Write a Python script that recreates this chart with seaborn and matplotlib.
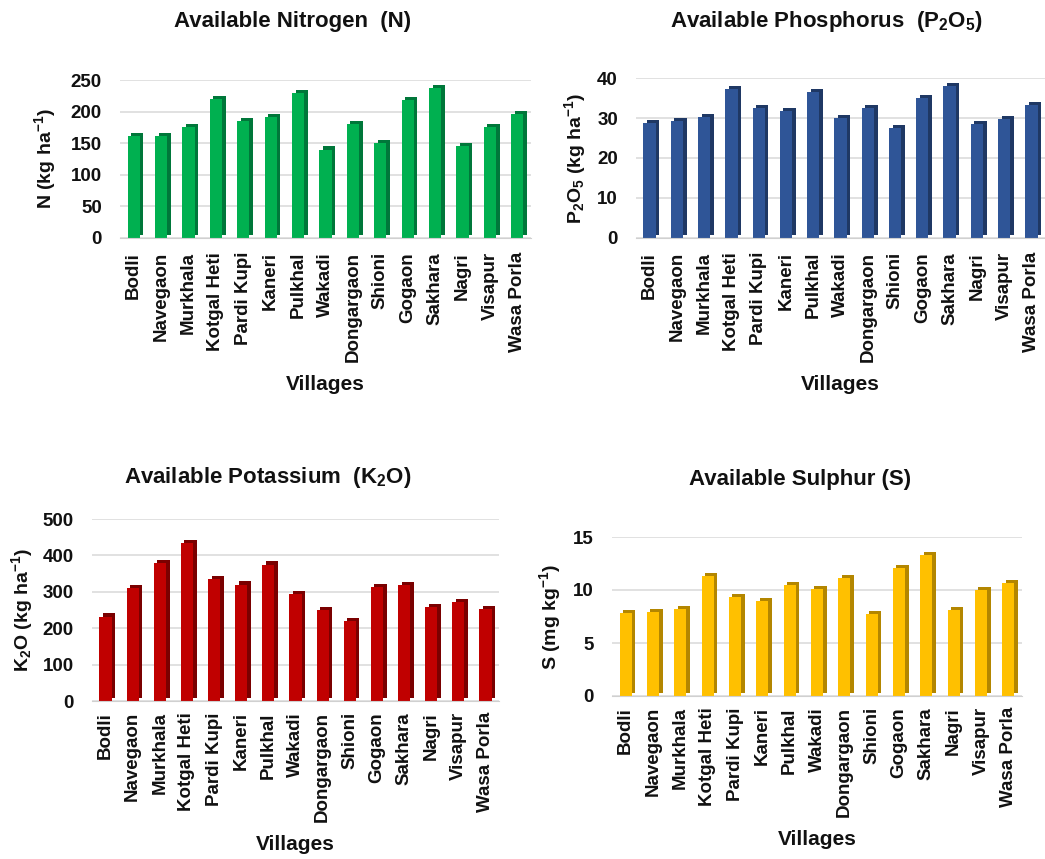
import seaborn as sns
import matplotlib
matplotlib.use("Agg")
import matplotlib.pyplot as plt
import matplotlib.patheffects as pe

sns.set_style("white")
plt.rcParams['font.family'] = ['Liberation Sans', 'DejaVu Sans']
plt.rcParams['font.weight'] = 'bold'
plt.rcParams['mathtext.fontset'] = 'custom'
plt.rcParams['mathtext.rm'] = 'Liberation Sans:bold'
plt.rcParams['mathtext.bf'] = 'Liberation Sans:bold'
plt.rcParams['mathtext.default'] = 'bf'
for k in ['text.color', 'axes.labelcolor', 'xtick.color', 'ytick.color']:
    plt.rcParams[k] = '#111111'

villages = ['Bodli', 'Navegaon', 'Murkhala', 'Kotgal Heti', 'Pardi Kupi', 'Kaneri',
            'Pulkhal', 'Wakadi', 'Dongargaon', 'Shioni', 'Gogaon', 'Sakhara',
            'Nagri', 'Visapur', 'Wasa Porla']

nitrogen = [162, 161, 176, 220, 185, 191, 230, 140, 180, 150, 218, 237, 145, 175, 196]
phosphorus = [28.8, 29.2, 30.3, 37.3, 32.6, 31.7, 36.4, 29.9, 32.4, 27.5, 34.9, 38.0, 28.6, 29.8, 33.3]
potassium = [232, 310, 380, 435, 335, 320, 375, 295, 250, 220, 312, 318, 257, 273, 253]
sulphur = [7.8, 7.9, 8.2, 11.3, 9.3, 9.0, 10.5, 10.1, 11.1, 7.7, 12.1, 13.3, 8.1, 10.0, 10.7]

W, H = 1045, 859
fig = plt.figure(figsize=(W / 100, H / 100), dpi=100)

# values, colour, side colour, y max, step, ylabel, title,
# axes box in pixels (left, right, top, bottom), title centre, ylabel x, xlabel top, xtick pad
panels = [
    (nitrogen, '#00B050', '#00773A', 250, 50, r'N (kg ha$^{-1}$)',
     r'Available Nitrogen  (N)', (120, 531, 80, 238), (293, 22), 58, 375, 10),
    (phosphorus, '#2F5597', '#1F3864', 40, 10, r'P$_2$O$_5$ (kg ha$^{-1}$)',
     r'Available Phosphorus  (P$_2$O$_5$)', (636, 1045, 78, 238), (826, 22), 588, 375, 10),
    (potassium, '#C00000', '#7A0000', 500, 100, r'K$_2$O (kg ha$^{-1}$)',
     r'Available Potassium  (K$_2$O)', (92, 499, 519, 701), (268, 478), 35, 835, 8),
    (sulphur, '#FFC000', '#B38600', 15, 5, r'S (mg kg$^{-1}$)',
     r'Available Sulphur (S)', (612, 1022, 537, 696), (800, 479), 563, 830, 8),
]

for vals, col, side, top, step, ylab, title, box, tpos, ylx, xlt, xpad in panels:
    l, r, t, b = box
    ax = fig.add_axes([l / W, 1 - b / H, (r - l) / W, (b - t) / H])
    sns.barplot(x=villages, y=vals, color=col, width=0.45, saturation=1,
                linewidth=0, edgecolor=col, ax=ax)
    # fake 3D side/top like the Excel bars
    for p in ax.patches:
        p.set_path_effects([pe.SimplePatchShadow(offset=(2.6, 2.2), shadow_rgbFace=side, alpha=1.0),
                            pe.Normal()])
    ax.set_ylim(0, top)
    ax.set_yticks(range(0, top + 1, step))
    ax.yaxis.grid(True, color='#D9D9D9', linewidth=1.1)
    ax.set_axisbelow(True)
    for s in ['top', 'right', 'left']:
        ax.spines[s].set_visible(False)
    ax.spines['bottom'].set_color('#D0D0D0')
    ax.tick_params(axis='x', labelrotation=90, length=0, pad=xpad, labelsize=13.5)
    ax.tick_params(axis='y', length=0, pad=13, labelsize=13.5)
    for lab in ax.get_xticklabels() + ax.get_yticklabels():
        lab.set_fontweight('bold')
    ax.set_ylabel(ylab, fontsize=14, fontweight='bold')
    ax.yaxis.set_label_coords(ylx / W, 1 - ((t + b) / 2) / H, transform=fig.transFigure)
    ax.set_xlabel('Villages', fontsize=15, fontweight='bold')
    ax.xaxis.set_label_coords(((l + r) / 2) / W, 1 - xlt / H, transform=fig.transFigure)
    fig.text(tpos[0] / W, 1 - tpos[1] / H, title, ha='center', va='center',
             fontsize=16, fontweight='bold')

fig.savefig('out.png', dpi=100)
